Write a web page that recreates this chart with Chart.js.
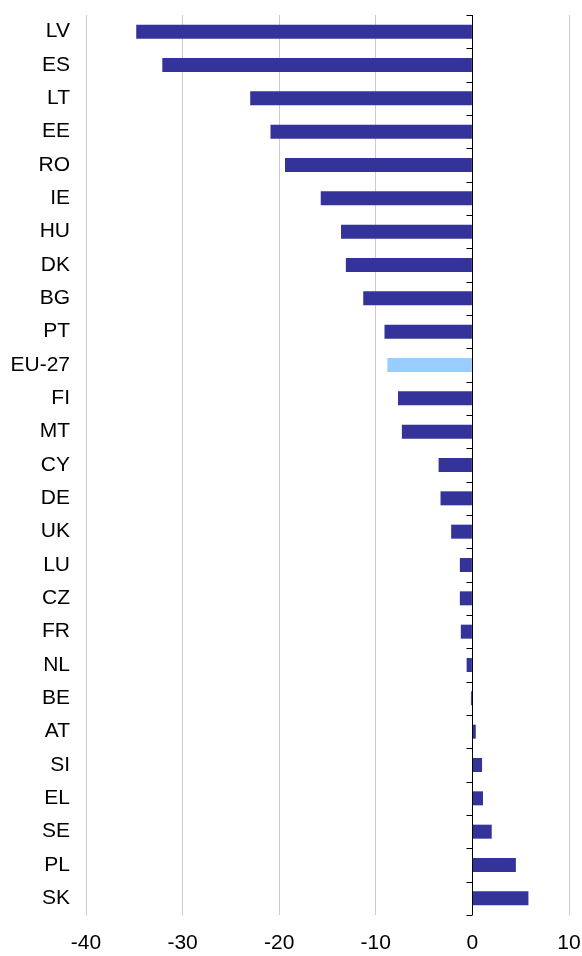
<!DOCTYPE html>
<html>
<head>
<meta charset="utf-8">
<script src="https://cdn.jsdelivr.net/npm/chart.js@4/dist/chart.umd.min.js"></script>
<style>
  html, body { margin: 0; padding: 0; background: #fff; }
  #wrap { width: 582px; height: 956px; position: relative; }
</style>
</head>
<body>
<div id="wrap"><canvas id="canvas"></canvas></div>
<script>
// countries, top to bottom
var countries = ['LV', 'ES', 'LT', 'EE', 'RO', 'IE', 'HU', 'DK', 'BG', 'PT', 'EU-27', 'FI', 'MT',
  'CY', 'DE', 'UK', 'LU', 'CZ', 'FR', 'NL', 'BE', 'AT', 'SI', 'EL', 'SE', 'PL', 'SK'];
var values = [-34.8, -32.1, -23.0, -20.9, -19.4, -15.7, -13.6, -13.1, -11.3, -9.1, -8.8, -7.7, -7.3,
  -3.5, -3.3, -2.2, -1.3, -1.3, -1.2, -0.6, -0.15, 0.35, 1.0, 1.1, 2.0, 4.5, 5.8];
var xTicks = [-40, -30, -20, -10, 0, 10];

var navy = '#333399';
var lightBlue = '#99ccff';

// small tick marks on the left of the zero line, at every category boundary
var zeroTicks = {
  id: 'zeroTicks',
  afterDatasetsDraw: function(chart) {
    var ctx = chart.ctx, x = chart.scales.x, y = chart.scales.y;
    var x0 = Math.round(x.getPixelForValue(0)) + 0.5;
    ctx.save();
    ctx.strokeStyle = '#000';
    ctx.lineWidth = 1;
    ctx.beginPath();
    ctx.moveTo(x0, y.top);
    ctx.lineTo(x0, y.bottom);
    for (var i = 0; i <= countries.length; i++) {
      var py = Math.round(y.getPixelForValue(i - 0.5)) + 0.5;
      ctx.moveTo(x0 - 6, py);
      ctx.lineTo(x0, py);
    }
    ctx.stroke();
    ctx.restore();
  }
};

var font = { family: 'Liberation Sans, Arial, sans-serif', size: 21 };

var ctx = document.getElementById('canvas').getContext('2d');
window.myBar = new Chart(ctx, {
  type: 'bar',
  data: {
    labels: countries,
    datasets: [{
      data: values,
      backgroundColor: countries.map(function(c) { return c === 'EU-27' ? lightBlue : navy; }),
      borderWidth: 0,
      categoryPercentage: 1,
      barPercentage: 0.42
    }]
  },
  options: {
    indexAxis: 'y',
    responsive: true,
    maintainAspectRatio: false,
    animation: false,
    layout: { padding: { top: 15, right: 13, bottom: 1, left: 0 } },
    plugins: { legend: { display: false }, tooltip: { enabled: false } },
    scales: {
      x: {
        min: -40,
        max: 10,
        afterBuildTicks: function(s) { s.ticks = xTicks.map(function(v) { return { value: v }; }); },
        afterFit: function(s) { s.height = 40; s.paddingLeft = 0; s.paddingRight = 0; },
        grid: {
          color: function(c) { return c.tick && c.tick.value === 0 ? 'rgba(0,0,0,0)' : '#cccccc'; },
          drawTicks: false
        },
        border: { display: false },
        ticks: { color: '#000', padding: 16, maxRotation: 0, font: font }
      },
      y: {
        afterFit: function(s) { s.width = 86; s.paddingTop = 0; s.paddingBottom = 0; },
        grid: { display: false, drawTicks: false },
        border: { display: false },
        ticks: { color: '#000', padding: 16, autoSkip: false, font: font }
      }
    }
  },
  plugins: [zeroTicks]
});
</script>
</body>
</html>
